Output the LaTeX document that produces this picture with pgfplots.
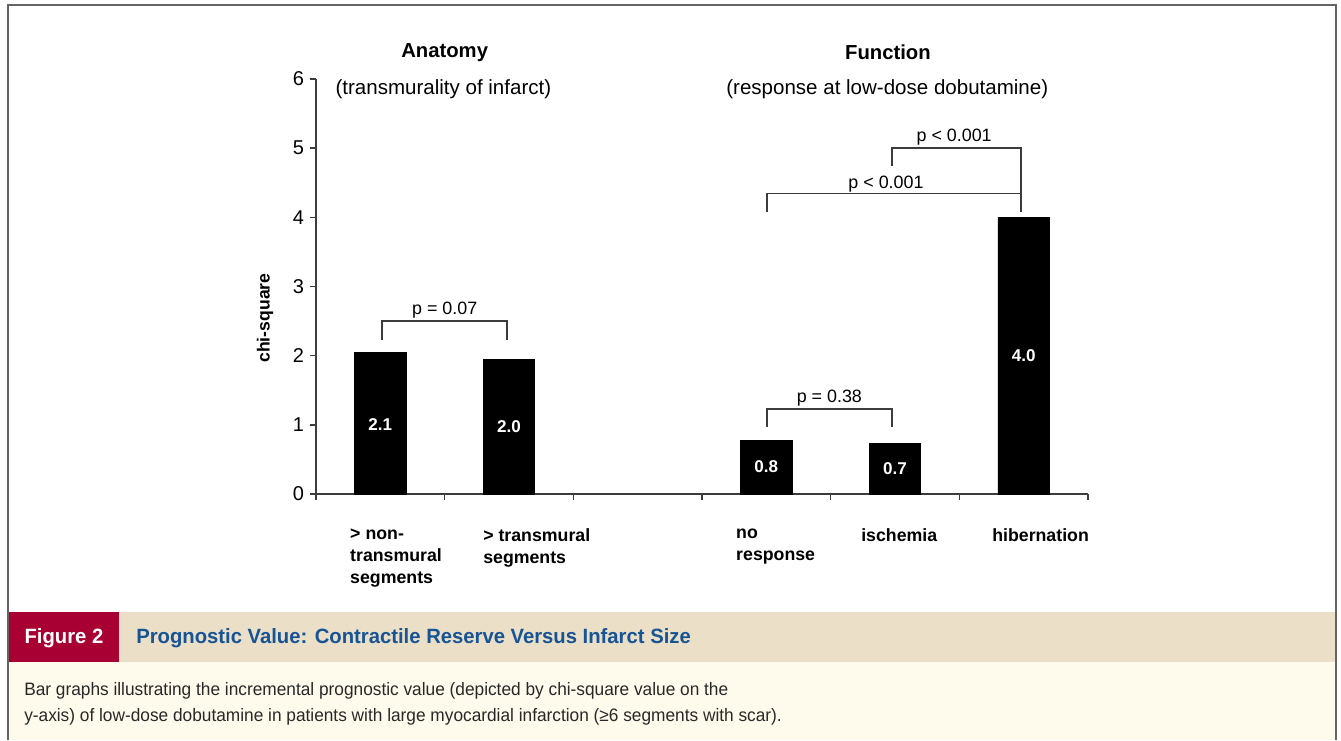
\documentclass[border=0pt]{standalone}
\usepackage{fontspec}
\setmainfont{Liberation Sans}
\newfontfamily\condfont[FakeStretch=0.96]{Liberation Sans}
\newfontfamily\titlefont[FakeStretch=0.98]{Liberation Sans}
\usepackage{pgfplots}
\pgfplotsset{compat=1.18}
\definecolor{figred}{RGB}{168,0,50}
\definecolor{capbeige}{RGB}{235,223,199}
\definecolor{capyellow}{RGB}{254,251,236}
\definecolor{capblue}{RGB}{22,84,150}
\definecolor{framegray}{RGB}{100,100,100}
\definecolor{axisgray}{RGB}{60,60,60}
\definecolor{captext}{RGB}{40,40,40}
\begin{document}
\begin{tikzpicture}
\begin{scope}[x=0.75pt,y=0.75pt]
\fill[white] (0,0) rectangle (1341,740);
\fill[capyellow] (9,0) rectangle (1336,78);
\fill[capbeige] (119,78) rectangle (1336,128);
\fill[figred] (9,78) rectangle (119,128);
\draw[framegray, line width=1.5pt] (8,0) -- (8,735) -- (1336,735) -- (1336,0);
\node[anchor=base, text=white, inner sep=0pt] at (64,96) {\titlefont\bfseries\fontsize{15.5}{18}\selectfont Figure 2};
\node[anchor=base west, text=capblue, inner sep=0pt] at (136,96) {\titlefont\bfseries\fontsize{15.5}{18}\selectfont Prognostic Value: Contractile Reserve Versus Infarct Size};
\node[anchor=base west, text=captext, inner sep=0pt] at (24,44) {\condfont\fontsize{13.5}{16}\selectfont Bar graphs illustrating the incremental prognostic value (depicted by chi-square value on the};
\node[anchor=base west, text=captext, inner sep=0pt] at (24,18) {\condfont\fontsize{13.5}{16}\selectfont y-axis) of low-dose dobutamine in patients with large myocardial infarction (≥6 segments with scar).};
\end{scope}
\begin{axis}[
  at={(237pt,184.5pt)}, anchor=south west,
  scale only axis, width=579pt, height=311.25pt,
  xmin=0, xmax=6, ymin=0, ymax=6,
  axis lines=left,
  axis line style={-, draw=axisgray, line width=1.1pt},
  xtick={0,1,...,6}, xticklabels={},
  ytick={0,1,...,6},
  tick align=outside, major tick length=4.5pt,
  tick style={draw=axisgray, line width=1.1pt},
  yticklabel style={font=\fontsize{15}{17}\selectfont, xshift=-1pt},
  /pgf/number format/assume math mode=true,
  clip=false,
  ylabel={chi-square},
  ylabel style={at={(axis description cs:-0.066,0.424)}, anchor=center, font=\bfseries\fontsize{13.2}{15}\selectfont},
]
\addplot[ybar, bar shift=0pt, bar width=0.4, fill=black, draw=black]
  coordinates {(0.5,2.05) (1.5,1.95) (3.5,0.78) (4.5,0.73) (5.5,4.0)};
% values inside bars
\begin{scope}[every node/.style={text=white, font=\bfseries\fontsize{12.8}{15}\selectfont}]
\node at (axis cs:0.5,1.01) {2.1};
\node at (axis cs:1.5,0.97) {2.0};
\node at (axis cs:3.5,0.39) {0.8};
\node at (axis cs:4.5,0.37) {0.7};
\node at (axis cs:5.5,2.0) {4.0};
\end{scope}
% brackets
\begin{scope}[draw=axisgray, line width=1.0pt]
\draw (axis cs:0.513,2.23) |- (axis cs:1.485,2.5) -- (axis cs:1.485,2.23);
\draw (axis cs:3.505,0.97) |- (axis cs:4.477,1.23) -- (axis cs:4.477,0.97);
\draw (axis cs:4.477,4.74) |- (axis cs:5.48,5.0) -- (axis cs:5.48,4.08);
\draw (axis cs:3.505,4.08) |- (axis cs:5.48,4.34);
\end{scope}
\begin{scope}[every node/.style={font=\fontsize{13.4}{15}\selectfont}]
\node at (axis cs:1.0,2.66) {p = 0.07};
\node at (axis cs:3.99,1.39) {p = 0.38};
\node at (axis cs:4.96,5.16) {p < 0.001};
\node at (axis cs:4.43,4.48) {p < 0.001};
\end{scope}
% titles
\node[font=\bfseries\fontsize{15.2}{18}\selectfont] at (axis cs:1.0,6.38) {Anatomy};
\node[font=\fontsize{15.4}{18}\selectfont] at (axis cs:0.99,5.85) {(transmurality of infarct)};
\node[font=\bfseries\fontsize{15.2}{18}\selectfont] at (axis cs:4.445,6.38) {Function};
\node[font=\fontsize{15.4}{18}\selectfont] at (axis cs:4.44,5.85) {(response at low-dose dobutamine)};
% category labels
\begin{scope}[every node/.style={anchor=north west, align=left, inner sep=0pt, font=\bfseries\fontsize{13.3}{16.5}\selectfont}]
\node at (axis cs:0.264,-0.5) {> non-\\transmural\\segments};
\node at (axis cs:1.298,-0.5) {> transmural\\segments};
\node at (axis cs:3.264,-0.5) {no\\response};
\node at (axis cs:4.236,-0.5) {ischemia};
\node at (axis cs:5.254,-0.5) {hibernation};
\end{scope}
\end{axis}
\end{tikzpicture}
\end{document}
